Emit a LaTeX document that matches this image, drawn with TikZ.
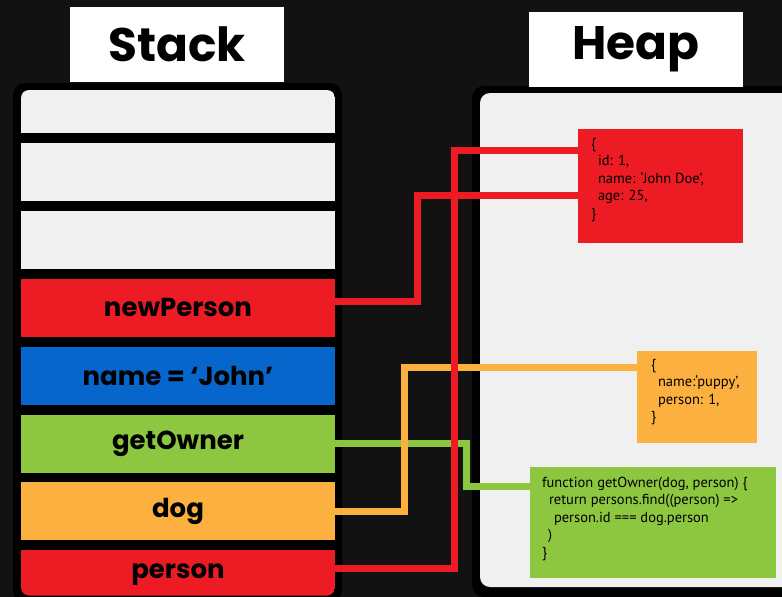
\documentclass[tikz,border=0pt]{standalone}
\usepackage{fontspec}
\newfontfamily\headfont{Poppins}
\newfontfamily\codefont{PT Sans}
\usetikzlibrary{positioning}

\definecolor{bgdark}{HTML}{121212}
\definecolor{cellgray}{HTML}{F0F0F0}
\definecolor{objred}{HTML}{ED1C24}
\definecolor{objblue}{HTML}{0766CC}
\definecolor{objgreen}{HTML}{8DC63F}
\definecolor{objorange}{HTML}{FBB040}

\tikzset{
	cell/.style={minimum width=314pt, minimum height=58pt, inner sep=0pt, font=\headfont\bfseries\fontsize{26}{26}\selectfont},
	title/.style={fill=white, minimum width=214pt, minimum height=75pt, inner sep=0pt, font=\headfont\bfseries\fontsize{47}{47}\selectfont},
	obj/.style={inner sep=0pt},
	code/.style={align=left, inner sep=0pt, anchor=north west, font=\codefont\fontsize{14.5}{17.5}\selectfont},
	link/.style={line width=7pt}
}

\begin{document}
\begin{tikzpicture}[x=1pt,y=-1pt,node distance=9.5pt]
		\useasboundingbox (0,0) rectangle (782,597);
		\clip (0,0) rectangle (782,597);
		\fill[bgdark] (0,0) rectangle (782,597);
		
		% heap area
		\fill[black,rounded corners=12pt] (472,86) rectangle (800,597);
		\fill[cellgray,rounded corners=10pt] (480,93) rectangle (800,587);
		\node[title] (heaptitle) at (636,49.5) {Heap};
		
		% stack frames
		\fill[black,rounded corners=12pt] (13,83) rectangle (342,602);
		\node[title] (stacktitle) at (177,44.5) {Stack};
		\begin{scope}
			\clip[rounded corners=8pt] (21,90) rectangle (335,595.5);
			\node[cell,fill=cellgray,minimum height=43pt] (c1) at (178,111.5) {};
			\node[cell,fill=cellgray,below=of c1] (c2) {};
			\node[cell,fill=cellgray,below=of c2] (c3) {};
			\node[cell,fill=objred,below=of c3] (np) {newPerson};
			\node[cell,fill=objblue,below=of np] (nm) {name = ‘John’};
			\node[cell,fill=objgreen,below=of nm] (go) {getOwner};
			\node[cell,fill=objorange,below=of go] (dg) {dog};
			\node[cell,fill=objred,below=of dg,minimum height=48pt] (pr) {person};
		\end{scope}
		
		% objects on the heap
		\node[obj,fill=objred,minimum width=165pt,minimum height=114pt] (jd) at (660.5,186) {};
		\node[code] at ([shift={(13,9)}]jd.north west) {\{\\\hspace*{7pt}id: 1,\\\hspace*{7pt}name:  ‘John Doe’,\\\hspace*{7pt}age: 25,\\\}};
		
		\node[obj,fill=objorange,minimum width=120pt,minimum height=92pt] (pp) at (697,397) {};
		\node[code] at ([shift={(14,8)}]pp.north west) {\{\\\hspace*{7pt}name:‘puppy’,\\\hspace*{7pt}person: 1,\\\}};
		
		\node[obj,fill=objgreen,minimum width=246pt,minimum height=111pt] (fn) at (653,522.5) {};
		\node[code] at ([shift={(12,10)}]fn.north west) {function getOwner(dog, person) \{\\\hspace*{7pt}return persons.find((person) =>\\\hspace*{12pt}person.id === dog.person\\\hspace*{6pt})\\\}};
		
		% references from the stack
		\draw[link,objgreen] (go.east) -- ++(131,0) |- ([yshift=36.5pt]fn.west);
		\draw[link,objorange] (dg.east) -- ++(69,0) |- ([yshift=30pt]pp.west);
		\draw[link,objred] ([yshift=6pt]np.east) -- ++(82,0) |- ([yshift=-9pt]jd.west);
		\draw[link,objred] ([yshift=6pt]pr.east) -- ++(119,0) |- ([yshift=36pt]jd.west);
	\end{tikzpicture}
\end{document}
